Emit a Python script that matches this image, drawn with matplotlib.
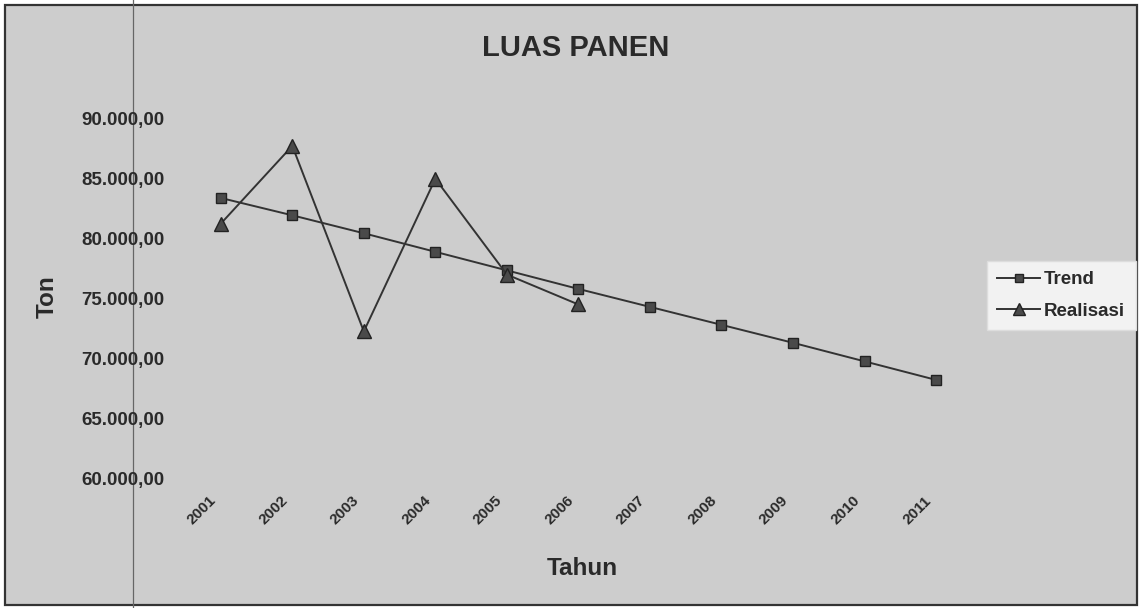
import matplotlib
matplotlib.use('Agg')
import matplotlib.pyplot as plt
from matplotlib.patches import Rectangle
from matplotlib.lines import Line2D
from matplotlib.ticker import FuncFormatter
from matplotlib.transforms import ScaledTranslation

plt.rcParams['font.family'] = ['Liberation Sans', 'DejaVu Sans']

# data
years = ['2001', '2002', '2003', '2004', '2005', '2006',
         '2007', '2008', '2009', '2010', '2011']
trend = [83400, 81950, 80450, 78900, 77350, 75800,
         74300, 72800, 71300, 69750, 68200]
realisasi = [81250, 87750, 72250, 85000, 77000, 74500]

bg = '#cdcdcd'
ink = '#2a2a2a'

fig = plt.figure(figsize=(11.42, 6.08), dpi=100, facecolor='white')
# scanned page area
fig.patches.append(Rectangle((5 / 1142, 3 / 608), 1132 / 1142, 600 / 608,
                             transform=fig.transFigure, facecolor=bg,
                             edgecolor='#333333', linewidth=1.6, zorder=-2))
fig.lines.append(Line2D([133 / 1142, 133 / 1142], [0, 1], transform=fig.transFigure,
                        color='#666666', linewidth=0.9, zorder=-1))

ax = fig.add_axes([0.162, 0.194, 0.689, 0.634])
ax.set_facecolor('none')
ax.set_zorder(2)

x_trend = list(range(len(trend)))
x_real = list(range(len(realisasi)))
ax.plot(x_trend, trend, color='#333333', linewidth=1.4, marker='s', markersize=7.5,
        markerfacecolor='#4a4a4a', markeredgecolor='#222222', label='Trend')
ax.plot(x_real, realisasi, color='#333333', linewidth=1.4, marker='^', markersize=9.5,
        markerfacecolor='#4a4a4a', markeredgecolor='#222222', label='Realisasi')

ax.set_xlim(-0.5, len(years) - 0.5)
ax.set_ylim(59000, 91200)
ax.set_yticks([60000, 65000, 70000, 75000, 80000, 85000, 90000])
ax.yaxis.set_major_formatter(FuncFormatter(lambda v, p: f'{v:,.2f}'.replace(',', 'X').replace('.', ',').replace('X', '.')))
ax.set_xticks(x_trend)
ax.set_xticklabels(years, rotation=45, ha='right', va='top', rotation_mode='anchor')

for s in ax.spines.values():
    s.set_visible(False)
ax.tick_params(axis='y', length=0, pad=15, labelsize=13.5, labelcolor=ink)
ax.tick_params(axis='x', length=0, pad=4, labelsize=11, labelcolor=ink)
shift = ScaledTranslation(-12 / 100, 2 / 100, fig.dpi_scale_trans)
for t in ax.get_xticklabels():
    t.set_transform(t.get_transform() + shift)
for t in ax.get_yticklabels() + ax.get_xticklabels():
    t.set_fontweight('bold')

fig.text(0.504, 0.921, 'LUAS PANEN', ha='center', va='center',
         fontsize=21, fontweight='bold', color=ink)
fig.text(0.041, 0.512, 'Ton', ha='center', va='center', rotation=90,
         fontsize=17.5, fontweight='bold', color=ink)
fig.text(0.51, 0.065, 'Tahun', ha='center', va='center',
         fontsize=17.5, fontweight='bold', color=ink)

leg = fig.legend(loc='center left', bbox_to_anchor=(0.856, 0.514), frameon=True,
                 fancybox=False, edgecolor='#dddddd', facecolor='#f2f2f2', framealpha=1,
                 fontsize=13.5, handlelength=2.3, handletextpad=0.2, borderpad=0.55,
                 labelspacing=0.75, markerscale=0.85)
leg.set_zorder(3)
for t in leg.get_texts():
    t.set_fontweight('bold')
    t.set_color(ink)

fig.savefig('out.png', dpi=100, facecolor='white')
